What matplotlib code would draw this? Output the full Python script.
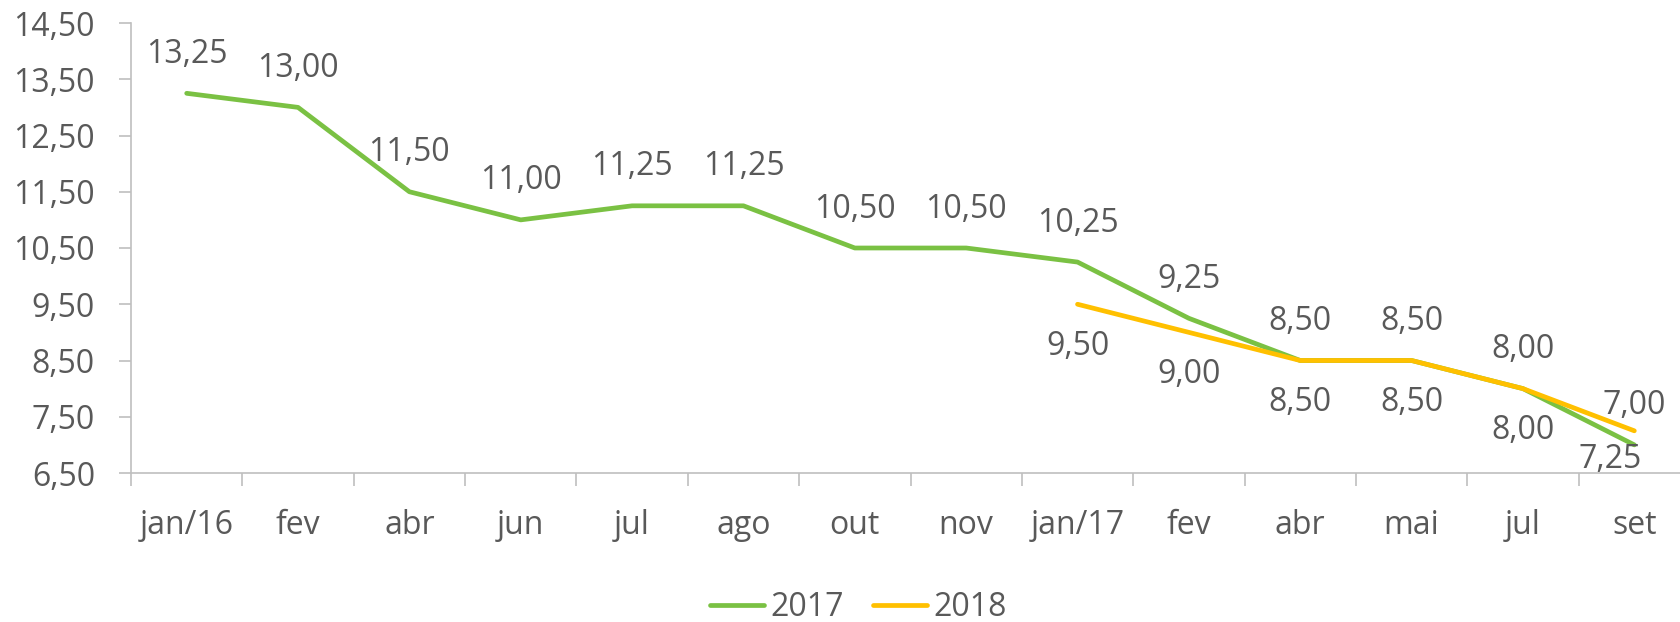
import matplotlib

matplotlib.use("Agg")
import matplotlib.pyplot as plt
import numpy as np
from matplotlib.ticker import FuncFormatter

categories = ["jan/16", "fev", "abr", "jun", "jul", "ago", "out", "nov",
              "jan/17", "fev", "abr", "mai", "jul", "set"]
s2017 = [13.25, 13.00, 11.50, 11.00, 11.25, 11.25, 10.50, 10.50,
         10.25, 9.25, 8.50, 8.50, 8.00, 7.00]
s2018 = [np.nan] * 8 + [9.50, 9.00, 8.50, 8.50, 8.00, 7.25]
yticks = [6.5, 7.5, 8.5, 9.5, 10.5, 11.5, 12.5, 13.5, 14.5]

GREEN = "#7AC143"
YELLOW = "#FFC000"
TXT = "#595959"
AX = "#BFBFBF"
FONT = "Open Sans"
FS = 23

W, H = 1680, 622
fig = plt.figure(figsize=(W / 100, H / 100), dpi=100)
ax = fig.add_axes([131 / W, 1 - 473 / H, 1559 / W, (473 - 23) / H])

x = np.arange(len(categories))
ax.plot(x, s2017, color=GREEN, lw=3.4, label="2017", solid_capstyle="round", zorder=3)
ax.plot(x, s2018, color=YELLOW, lw=3.4, label="2018", solid_capstyle="round", zorder=4)

ax.set_xlim(-0.5, len(categories) - 0.5)
ax.set_ylim(yticks[0], yticks[-1])
ax.set_yticks(yticks)
ax.yaxis.set_major_formatter(FuncFormatter(lambda v, _: f"{v:.2f}".replace(".", ",")))
ax.set_xticks(x)
ax.set_xticklabels(categories)
ax.set_xticks(np.arange(-0.5, len(categories), 1.0), minor=True)
ax.tick_params(axis="x", which="major", length=0, pad=26, labelsize=FS, labelcolor=TXT)
ax.tick_params(axis="x", which="minor", length=9, width=1.2, color=AX)
ax.tick_params(axis="y", length=9, width=1.2, color=AX, pad=17, labelsize=FS, labelcolor=TXT)
for lbl in ax.get_xticklabels() + ax.get_yticklabels():
    lbl.set_family(FONT)
for s in ("top", "right"):
    ax.spines[s].set_visible(False)
for s in ("left", "bottom"):
    ax.spines[s].set_color(AX)
    ax.spines[s].set_linewidth(1.2)

fmt = lambda v: f"{v:.2f}".replace(".", ",")
fig.canvas.draw()
bottom_px = ax.transAxes.transform((0, 0))[1]
for vals, dy in ((s2017, 39), (s2018, -42)):
    for i, v in enumerate(vals):
        if np.isnan(v):
            continue
        px, py = ax.transData.transform((i, v))
        ty = py + dy
        if ty < bottom_px + 14:  # keep label inside plot area
            ty = bottom_px + 14
            px -= 24
        fig.text(px / W, ty / H, fmt(v), ha="center", va="center",
                 fontsize=FS, color=TXT, family=FONT)

fig.legend(loc="center", bbox_to_anchor=(0.511, 1 - 608 / H), ncol=2, frameon=False,
           prop={"family": FONT, "size": FS}, labelcolor=TXT, handlelength=1.7,
           handletextpad=0.2, columnspacing=0.9)

fig.savefig("out.png", dpi=100)
